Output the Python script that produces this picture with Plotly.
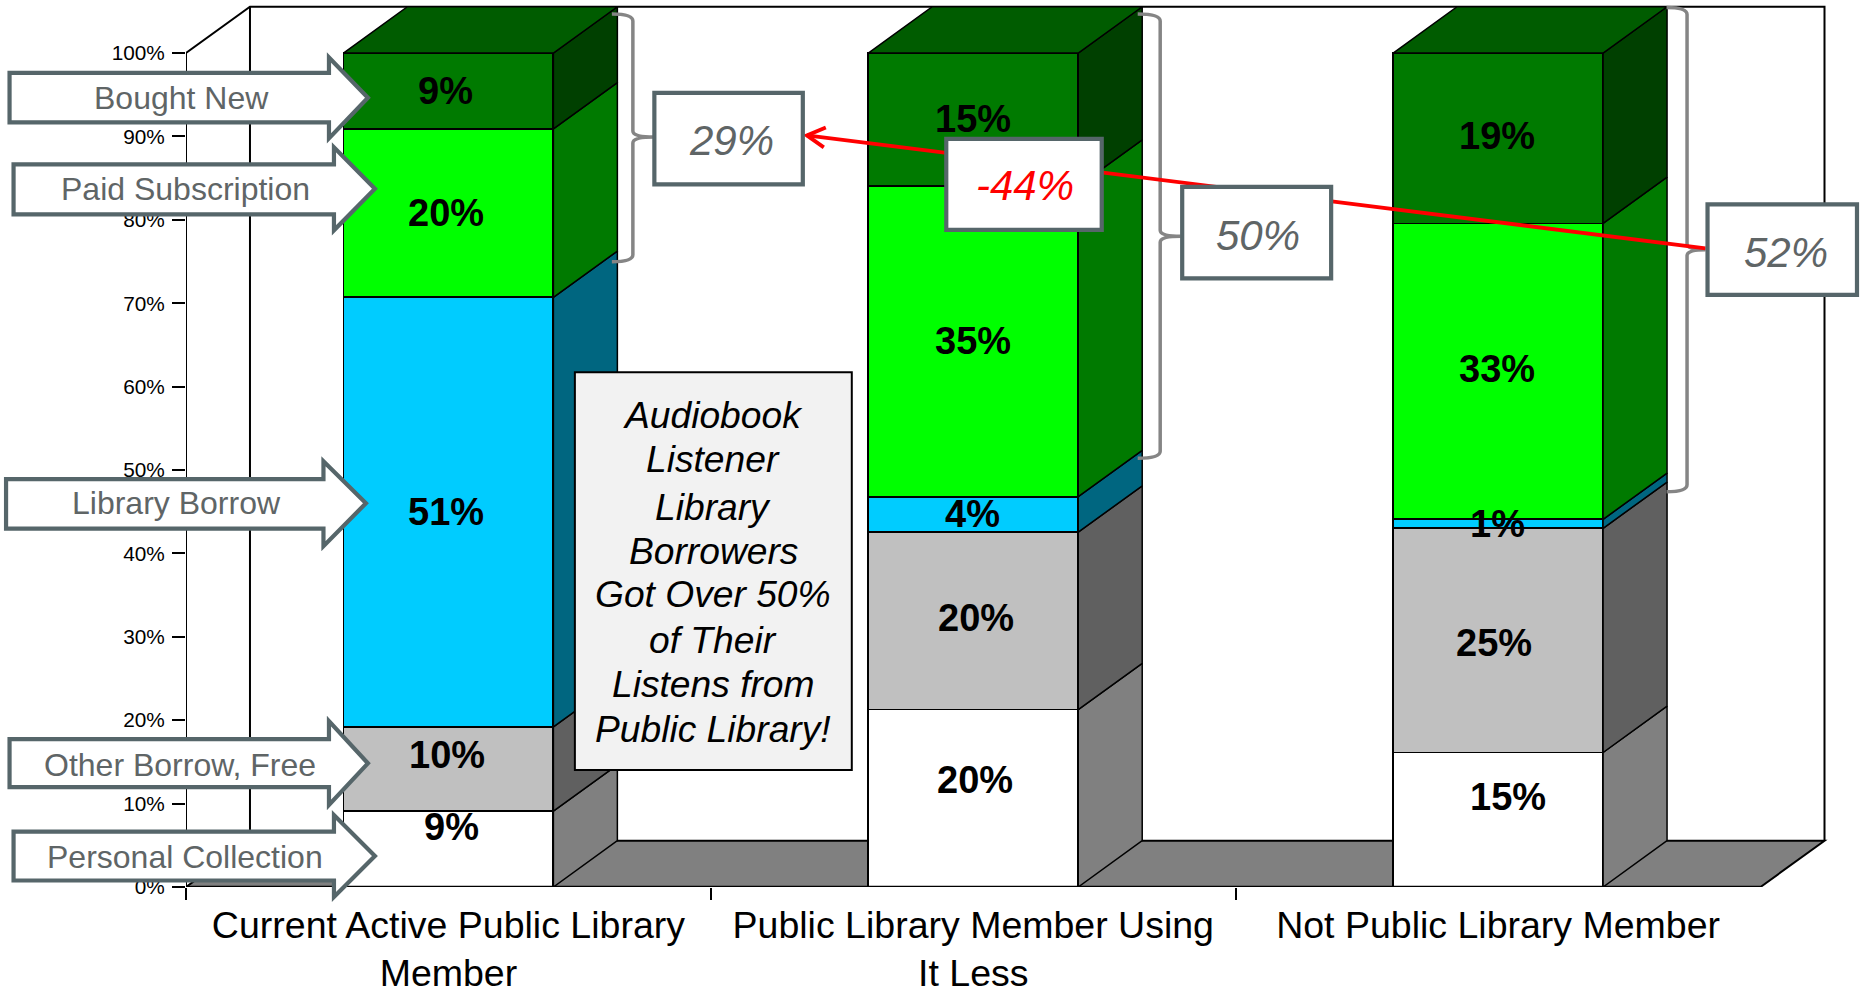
import plotly.graph_objects as go

# ---------- data ----------
categories = ["Current Active Public Library<br>Member",
              "Public Library Member Using<br>It Less",
              "Not Public Library Member"]
series_names = ["Personal Collection", "Other Borrow, Free", "Library Borrow",
                "Paid Subscription", "Bought New"]
personal_collection = [9, 20, 15]
other_borrow_free = [10, 20, 25]
library_borrow = [51, 4, 1]
paid_subscription = [20, 35, 33]
bought_new = [9, 15, 19]
y_ticks = [0, 10, 20, 30, 40, 50, 60, 70, 80, 90, 100]
y_tick_labels = ["0%", "10%", "20%", "30%", "40%", "50%", "60%", "70%", "80%", "90%", "100%"]
bracket_labels = ["29%", "50%", "52%"]
change_label = "-44%"
note_lines = ["Audiobook", "Listener", "Library", "Borrowers", "Got Over 50%",
              "of Their", "Listens from", "Public Library!"]

# ---------- style ----------
FONT = "Liberation Sans"
front_colors = ["#FFFFFF", "#C0C0C0", "#00CCFF", "#00FF00", "#007A00"]
side_colors = ["#808080", "#606060", "#006680", "#007A00", "#004000"]
top_color = "#005C00"
floor_color = "#808080"
callout_line = "#56666A"
callout_text = "#5F6566"
bracket_color = "#858585"
all_series = [personal_collection, other_borrow_free, library_borrow, paid_subscription, bought_new]

# data-unit geometry of the pseudo-3D box
BAR_W = 0.4
DX, DY = 64 / 525, 5.55
XR = [-0.5, 2.64]
YR = [0, 106]
L, R_PX, T_PX, B_PX = 186, 186 + 3.14 * 525, 887 - 106 * 8.344, 887
W, H = 1860, 989

def px(x):
    return (x - L) / (R_PX - L)

def py(y):
    return (B_PX - y) / (B_PX - T_PX)

def path(points, close=True):
    s = "M" + " L".join(f"{px(x):.5f},{py(y):.5f}" for x, y in points)
    return s + (" Z" if close else "")

fig = go.Figure()
xs = list(range(len(categories)))

# front faces
for name, vals, col in zip(series_names, all_series, front_colors):
    fig.add_trace(go.Bar(x=xs, y=vals, name=name, width=BAR_W,
                         marker=dict(color=col, line=dict(color="black", width=1.8)),
                         hoverinfo="skip"))

# side + top faces and data labels derived from the same values
label_shift = {  # (series, category): (x px, y px up)
    (0, 0): (3, 22), (1, 0): (-1, 14), (2, 0): (-2, 0), (3, 0): (-2, 0), (4, 0): (-3, 0),
    (0, 1): (2, 18), (1, 1): (3, 3), (2, 1): (-1, 0), (3, 1): (0, 0), (4, 1): (0, 1),
    (0, 2): (10, 23), (1, 2): (-4, -3), (2, 2): (-1, 0), (3, 2): (-1, 2), (4, 2): (-1, 2),
}
annotations = []
for c in xs:
    total = sum(s[c] for s in all_series)
    cum = 0.0
    xr = c + BAR_W / 2
    xl = c - BAR_W / 2
    for k, s in enumerate(all_series):
        lo = cum
        hi = cum + s[c] / total * 100
        cum = hi
        fig.add_trace(go.Scatter(
            x=[xr, xr + DX, xr + DX, xr, xr],
            y=[lo, lo + DY, hi + DY, hi, lo],
            mode="lines", fill="toself", fillcolor=side_colors[k],
            line=dict(color="black", width=1.5), hoverinfo="skip", cliponaxis=False))
        sx, sy = label_shift[(k, c)]
        annotations.append(dict(x=c, y=(lo + hi) / 2, xref="x", yref="y", text=f"<b>{s[c]}%</b>",
                                showarrow=False, xshift=sx, yshift=sy,
                                font=dict(family=FONT, size=38, color="black")))
    fig.add_trace(go.Scatter(
        x=[xl, xl + DX, xr + DX, xr, xl], y=[100, 100 + DY, 100 + DY, 100, 100],
        mode="lines", fill="toself", fillcolor=top_color,
        line=dict(color="black", width=1.5), hoverinfo="skip", cliponaxis=False))

# y-axis line and baseline
fig.add_trace(go.Scatter(x=[-0.5, -0.5], y=[-1.45, 100], mode="lines",
                         line=dict(color="black", width=2), hoverinfo="skip", cliponaxis=False))
fig.add_trace(go.Scatter(x=[-0.5, 2.5], y=[0, 0], mode="lines",
                         line=dict(color="black", width=2.4), hoverinfo="skip", cliponaxis=False))

# box behind the bars (floor + walls)
x0, x1 = -0.5, 2.5
shapes = [
    dict(type="path", xref="x", yref="y", layer="below",
         path=f"M{x0},0 L{x0 + DX},{DY} L{x1 + DX},{DY} L{x1},0 Z",
         fillcolor=floor_color, line=dict(color="black", width=2)),
    dict(type="path", xref="x", yref="y", layer="below",
         path=f"M{x0},100 L{x0 + DX},{100 + DY} L{x1 + DX},{100 + DY} L{x1 + DX},{DY}",
         line=dict(color="black", width=2)),
    dict(type="line", xref="x", yref="y", layer="below",
         x0=x0 + DX, x1=x0 + DX, y0=DY, y1=100 + DY, line=dict(color="black", width=2)),
]

def add_shape(points=None, d=None, fill=None, color=None, width=4.2):
    shapes.append(dict(type="path", xref="paper", yref="paper",
                       path=d if d else path(points),
                       fillcolor=fill if fill else "rgba(0,0,0,0)",
                       line=dict(color=color, width=width)))

def text(x, y, s, size, color, italic=False):
    annotations.append(dict(x=px(x), y=py(y), xref="paper", yref="paper", text=f"<i>{s}</i>" if italic else s,
                            showarrow=False, xanchor="center", yanchor="middle",
                            font=dict(family=FONT, size=size, color=color)))

# curly brackets
def bracket(xs_, xsp, xe, ytop, ymid, ybot):
    def P(x, y):
        return f"{px(x):.5f},{py(y):.5f}"
    return (f"M{P(xs_, ytop)} Q{P(xsp, ytop)} {P(xsp, ytop + 7)} L{P(xsp, ymid - 6)} "
            f"Q{P(xsp, ymid)} {P(xe, ymid)} Q{P(xsp, ymid)} {P(xsp, ymid + 6)} "
            f"L{P(xsp, ybot - 7)} Q{P(xsp, ybot)} {P(xs_, ybot)}")

for b in [(612, 633, 654, 13.5, 136.7, 261.5), (1138, 1160.5, 1181, 13.5, 236, 458),
          (1667, 1687.5, 1706, 7, 249.3, 491.5)]:
    shapes.append(dict(type="path", xref="paper", yref="paper", path=bracket(*b),
                       line=dict(color=bracket_color, width=3.5)))

# red trend line with open arrow head
shapes.append(dict(type="path", xref="paper", yref="paper",
                   path=path([(1706, 248), (807, 135)], close=False), line=dict(color="#FF0000", width=3.8)))
shapes.append(dict(type="path", xref="paper", yref="paper",
                   path=path([(826, 127), (807, 135), (824, 147)], close=False), line=dict(color="#FF0000", width=3.8)))

# value boxes
boxes = [(654.5, 803, 92.5, 184, bracket_labels[0], 731.5, 140.5, callout_text),
         (946.5, 1102, 138.5, 229.5, change_label, 1025, 185.5, "#FF0000"),
         (1182.5, 1331.5, 186.5, 278, bracket_labels[1], 1258.5, 235.5, callout_text),
         (1708, 1857.5, 204, 294.5, bracket_labels[2], 1786, 252, callout_text)]
for xa, xb, ya, yb, s, tx, ty, col in boxes:
    add_shape([(xa, ya), (xb, ya), (xb, yb), (xa, yb)], fill="white", color=callout_line)
    text(tx, ty, s, 42, col, italic=True)

# note box
add_shape([(575, 372), (852, 372), (852, 770), (575, 770)], fill="#F2F2F2", color="black", width=2)
for s, y in zip(note_lines, [415, 459, 507, 550.7, 594, 640, 684, 729]):
    text(713.5, y, s, 37.2, "black", italic=True)

# series callout arrows
arrows = [(9.5, 329, 368, 72.5, 122, 57, 138, 97.3, 181, 98),
          (13.5, 334, 375, 164, 214, 147, 230, 188.3, 185, 189),
          (6, 323.5, 366, 479, 528.5, 461, 546, 503, 176, 503),
          (9.5, 329, 368, 739, 787, 721, 805, 763.3, 180, 765),
          (13.5, 334, 375, 831.5, 880.5, 815, 897, 856, 185, 857)]
arrow_names = ["Bought New", "Paid Subscription", "Library Borrow", "Other Borrow, Free", "Personal Collection"]
for (xa, xs_, xt, yt, yb, ht, hb, ym, tx, ty), s in zip(arrows, arrow_names):
    add_shape([(xa, yt), (xs_, yt), (xs_, ht), (xt, ym), (xs_, hb), (xs_, yb), (xa, yb)],
              fill="white", color=callout_line)
    text(tx, ty, s, 32, callout_text)

fig.update_layout(
    width=W, height=H, barmode="stack", barnorm="percent", showlegend=False,
    paper_bgcolor="white", plot_bgcolor="white", shapes=shapes, annotations=annotations,
    margin=dict(l=L, r=W - R_PX, t=T_PX, b=H - B_PX, autoexpand=False),
    xaxis=dict(range=XR, tickmode="array", tickvals=xs, ticktext=categories, ticks="",
               ticklabelstandoff=12, showgrid=False, zeroline=False, showline=False,
               tickfont=dict(family=FONT, size=37.5, color="black"),
               minor=dict(tickmode="array", tickvals=[-0.5, 0.5, 1.5], ticks="outside", ticklen=12,
                          tickwidth=1.5, tickcolor="black", showgrid=False)),
    yaxis=dict(range=YR, tickmode="array", tickvals=y_ticks, ticktext=y_tick_labels, ticks="outside",
               ticklen=13, tickwidth=2, tickcolor="black", showgrid=False, zeroline=False, showline=False,
               ticklabelstandoff=3, tickfont=dict(family=FONT, size=20.8, color="black")),
)

fig.write_html("out.html", config={"displayModeBar": False},
               post_script="document.body.style.margin='0';")
